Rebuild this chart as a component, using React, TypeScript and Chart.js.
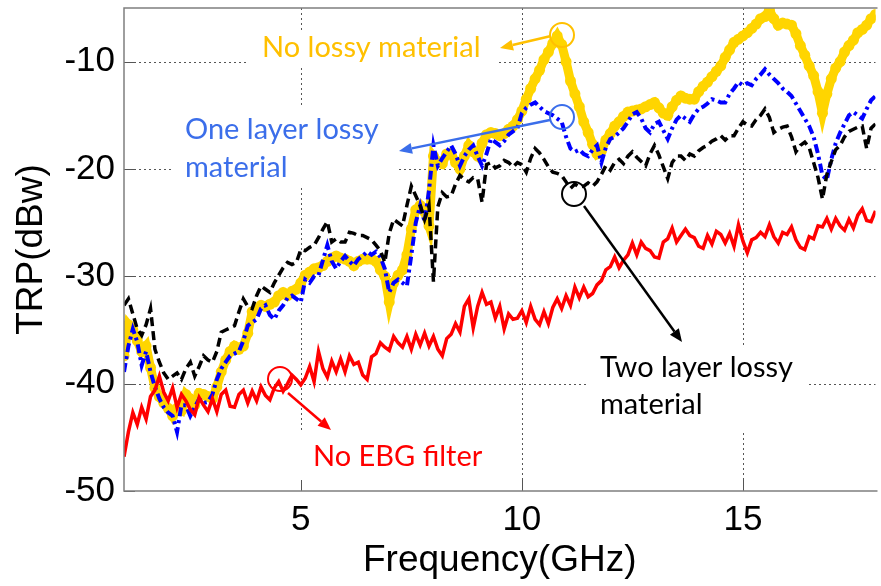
import React, { useEffect, useRef } from 'react';
import { Chart, registerables } from 'chart.js';

Chart.register(...registerables);

// Frequency samples (GHz)
const FREQ = [
  1.0, 1.1, 1.2, 1.3, 1.4, 1.5, 1.6, 1.7, 1.8, 1.9,
  2.0, 2.1, 2.2, 2.3, 2.4, 2.5, 2.6, 2.7, 2.8, 2.9,
  3.0, 3.1, 3.2, 3.3, 3.4, 3.5, 3.6, 3.7, 3.8, 3.9,
  4.0, 4.1, 4.2, 4.3, 4.4, 4.5, 4.6, 4.7, 4.8, 4.9,
  5.0, 5.1, 5.2, 5.3, 5.4, 5.5, 5.6, 5.7, 5.8, 5.9,
  6.0, 6.1, 6.2, 6.3, 6.4, 6.5, 6.6, 6.7, 6.8, 6.9,
  7.0, 7.1, 7.2, 7.3, 7.4, 7.5, 7.6, 7.7, 7.8, 7.9,
  8.0, 8.1, 8.2, 8.3, 8.4, 8.5, 8.6, 8.7, 8.8, 8.9,
  9.0, 9.1, 9.2, 9.3, 9.4, 9.5, 9.6, 9.7, 9.8, 9.9,
  10.0, 10.1, 10.2, 10.3, 10.4, 10.5, 10.6, 10.7, 10.8, 10.9,
  11.0, 11.1, 11.2, 11.3, 11.4, 11.5, 11.6, 11.7, 11.8, 11.9,
  12.0, 12.1, 12.2, 12.3, 12.4, 12.5, 12.6, 12.7, 12.8, 12.9,
  13.0, 13.1, 13.2, 13.3, 13.4, 13.5, 13.6, 13.7, 13.8, 13.9,
  14.0, 14.1, 14.2, 14.3, 14.4, 14.5, 14.6, 14.7, 14.8, 14.9,
  15.0, 15.1, 15.2, 15.3, 15.4, 15.5, 15.6, 15.7, 15.8, 15.9,
  16.0, 16.1, 16.2, 16.3, 16.4, 16.5, 16.6, 16.7, 16.8, 16.9,
  17.0, 17.1, 17.2, 17.3, 17.4, 17.5, 17.6, 17.7, 17.8, 17.9,
  18.0,
];

// TRP (dBw) — No EBG filter (red)
const NO_EBG = [
  -46.8, -44.5, -42.7, -43.8, -42.2, -43.3, -41.2, -40.6, -39.3, -40.8,
  -41.6, -40.4, -42.2, -41.0, -41.6, -42.4, -42.9, -41.3, -42.0, -42.6,
  -41.4, -42.6, -41.0, -40.6, -42.1, -42.2, -41.0, -40.6, -41.8, -40.7,
  -41.6, -40.3, -41.1, -41.5, -40.4, -39.8, -40.7, -40.0, -39.2, -39.6,
  -40.1, -39.5, -38.4, -39.8, -37.0, -38.6, -39.4, -37.9, -38.9, -37.7,
  -38.9, -37.4, -38.2, -38.0, -39.2, -39.6, -37.5, -37.2, -36.2, -36.6,
  -36.9, -35.6, -36.2, -36.6, -35.6, -36.8, -35.4, -36.4, -35.3, -36.5,
  -35.6, -36.8, -37.4, -35.8, -35.4, -34.4, -35.2, -32.8, -32.1, -34.8,
  -32.8, -31.5, -32.6, -32.4, -33.9, -32.8, -34.9, -33.5, -34.0, -33.9,
  -33.2, -34.3, -32.8, -34.0, -34.5, -33.3, -34.4, -32.9, -32.1, -33.0,
  -31.8, -32.7, -31.0, -32.0, -31.0, -31.9, -31.6, -30.8, -30.4, -29.4,
  -29.1, -28.2, -29.2, -28.5, -28.0, -26.9, -28.0, -26.8, -27.4, -27.6,
  -28.2, -28.3, -26.8, -26.5, -25.5, -26.8, -26.2, -25.6, -26.2, -26.4,
  -27.2, -27.4, -26.2, -27.0, -25.8, -26.1, -26.9, -26.0, -27.2, -25.2,
  -26.7, -27.8, -26.6, -26.4, -25.9, -26.3, -25.2, -26.3, -26.9, -25.9,
  -26.1, -25.4, -26.6, -27.3, -27.5, -26.3, -26.5, -25.3, -25.4, -24.6,
  -25.6, -24.6, -25.3, -25.7, -24.7, -25.5, -24.3, -23.7, -24.8, -24.9,
  -23.9,
];

// TRP (dBw) — No lossy material (yellow)
const NO_LOSSY = [
  -37.4, -34.5, -35.0, -36.0, -37.0, -36.5, -38.5, -40.4, -41.2, -41.8,
  -42.3, -43.0, -42.3, -42.5, -41.0, -41.4, -42.0, -40.9, -41.0, -41.2,
  -41.4, -40.3, -38.9, -37.8, -37.0, -36.5, -36.8, -36.5, -35.3, -33.3,
  -33.0, -32.7, -32.8, -32.6, -32.4, -31.8, -31.5, -31.8, -31.4, -31.2,
  -30.6, -29.9, -29.6, -29.3, -29.2, -29.0, -28.6, -28.3, -28.1, -28.3,
  -28.4, -28.6, -29.0, -28.6, -28.4, -28.4, -28.4, -28.6, -29.4, -30.0,
  -32.4, -30.6, -29.9, -29.4, -28.0, -25.6, -23.8, -23.4, -24.0, -25.3,
  -18.8, -19.3, -19.5, -18.6, -18.5, -19.4, -20.0, -18.8, -17.8, -18.4,
  -18.8, -17.6, -16.8, -16.6, -16.7, -16.9, -16.7, -16.3, -16.0, -15.4,
  -14.6, -13.5, -12.5, -11.6, -10.8, -9.8, -9.1, -8.3, -7.6, -8.4,
  -10.0, -11.8, -13.0, -14.2, -15.6, -16.6, -17.7, -18.6, -18.3, -17.3,
  -16.7, -16.0, -15.6, -15.1, -14.7, -14.6, -14.5, -14.4, -14.2, -14.0,
  -13.8, -14.3, -14.8, -15.0, -14.2, -13.6, -13.2, -13.4, -13.5, -13.5,
  -12.8, -12.3, -11.9, -11.4, -10.9, -10.4, -9.6, -8.9, -8.2, -7.9,
  -7.6, -7.3, -6.9, -6.5, -6.0, -5.8, -5.2, -6.0, -6.6, -6.4,
  -6.5, -6.6, -7.4, -8.5, -9.4, -10.4, -11.3, -12.8, -14.8, -13.0,
  -11.6, -10.6, -10.0, -9.1, -8.5, -8.0, -7.3, -7.0, -6.6, -6.0,
  -5.6,
];

// TRP (dBw) — One layer lossy material (blue)
const ONE_LAYER = [
  -38.9, -36.5, -34.9, -36.1, -38.3, -37.0, -38.9, -40.3, -41.4, -42.2,
  -42.7, -43.0, -44.5, -42.0, -42.0, -43.0, -42.2, -41.4, -41.8, -41.7,
  -41.0, -39.6, -38.6, -38.0, -37.4, -37.2, -37.0, -36.0, -34.6, -34.3,
  -34.0, -33.0, -32.7, -33.6, -34.0, -33.2, -32.7, -32.0, -31.8, -32.1,
  -32.4, -30.3, -30.6, -30.0, -29.9, -28.5, -27.1, -28.6, -29.3, -28.6,
  -28.1, -28.6, -29.0, -28.4, -28.1, -27.7, -28.0, -27.7, -28.2, -29.3,
  -31.5, -30.6, -30.3, -30.6, -30.9, -28.0, -25.0, -23.4, -24.9, -22.0,
  -17.8, -19.7, -19.0, -18.4, -17.8, -18.6, -19.7, -18.8, -18.2, -17.8,
  -18.8, -19.7, -18.6, -17.2, -17.5, -17.8, -17.4, -16.8, -16.5, -16.2,
  -14.8, -14.3, -14.0, -13.8, -14.2, -14.6, -14.8, -15.0, -15.3, -15.6,
  -17.0, -18.1, -18.4, -18.2, -18.6, -18.8, -18.2, -17.8, -19.4, -18.0,
  -17.2, -17.0, -16.6, -16.2, -15.6, -14.9, -14.7, -15.3, -16.2, -16.6,
  -15.8, -15.6, -16.4, -17.2, -16.2, -15.4, -15.0, -15.3, -15.6, -14.9,
  -14.4, -14.2, -13.9, -13.5, -13.6, -13.8, -13.8, -13.0, -12.5, -11.9,
  -12.2, -12.0, -12.2, -11.6, -11.2, -10.7, -11.2, -11.6, -12.0, -12.5,
  -12.8, -13.2, -13.9, -14.6, -15.3, -16.0, -17.0, -18.6, -20.6, -21.0,
  -19.1, -17.6, -16.6, -15.8, -15.0, -14.7, -15.0, -15.3, -14.4, -13.6,
  -13.2,
];

// TRP (dBw) — Two layer lossy material (black)
const TWO_LAYER = [
  -32.7, -32.1, -33.5, -34.9, -35.5, -34.5, -33.0, -36.8, -38.0, -39.0,
  -39.6, -39.3, -39.0, -39.6, -38.6, -38.0, -39.3, -38.4, -37.4, -37.8,
  -38.0, -37.0, -35.2, -35.0, -34.8, -34.6, -33.3, -32.1, -32.8, -33.0,
  -31.8, -30.9, -31.2, -31.5, -30.6, -29.9, -29.2, -28.7, -28.9, -28.7,
  -27.5, -27.6, -27.3, -27.1, -26.4, -25.6, -24.9, -26.8, -26.5, -26.8,
  -26.8, -25.9, -26.0, -26.2, -26.2, -26.4, -26.6, -27.1, -27.6, -28.7,
  -26.0, -24.7, -25.0, -25.3, -23.4, -21.6, -22.5, -23.4, -24.7, -23.4,
  -30.5, -23.5, -22.2, -22.6, -22.5, -21.4, -20.6, -21.0, -21.2, -20.8,
  -20.9, -23.1, -19.6, -19.4, -19.9, -19.7, -19.2, -19.4, -19.8, -19.4,
  -19.6, -20.3, -19.0, -18.1, -18.5, -19.1, -19.8, -20.3, -20.4, -20.6,
  -21.2, -21.8, -21.4, -21.7, -21.6, -21.3, -21.6, -21.2, -20.5, -19.7,
  -20.1, -19.4, -19.1, -19.5, -18.8, -18.4, -18.9, -19.3, -19.7, -18.6,
  -17.8, -18.7, -19.8, -20.9, -19.4, -18.8, -18.8, -19.2, -18.6, -18.8,
  -18.3, -18.0, -17.8, -17.4, -17.2, -16.9, -17.3, -16.9, -16.9, -16.2,
  -15.6, -15.9, -16.0, -15.4, -15.0, -14.4, -15.2, -16.6, -16.3, -16.1,
  -16.0, -17.0, -18.4, -17.8, -17.5, -18.0, -19.4, -20.8, -22.8, -20.5,
  -19.3, -18.2, -17.8, -17.0, -16.5, -16.3, -16.1, -16.0, -18.1, -16.2,
  -15.8,
];

const X_TICKS = [5, 10, 15];
const Y_TICKS = [-50, -40, -30, -20, -10];
const X_MIN = 1;
const X_MAX = 18;
const Y_MIN = -50;
const Y_MAX = -5;

const ORANGE = '#FFC000';
const BLUE_NOTE = '#3B6EEA';
const NOTE_FONT = '29px Lato, "Open Sans", sans-serif';

type Note = { lines: string[]; color: string; x: number; y: number; lh: number; box: [number, number, number, number] };
const NOTES: Note[] = [
  { lines: ['No lossy material'], color: ORANGE, x: 262, y: 48, lh: 0, box: [248, 30, 498, 67] },
  { lines: ['One layer lossy', 'material'], color: BLUE_NOTE, x: 185, y: 130, lh: 38, box: [172, 108, 397, 188] },
  { lines: ['Two layer lossy', 'material'], color: '#000000', x: 600, y: 368, lh: 37, box: [588, 345, 808, 433] },
  { lines: ['No EBG filter'], color: '#FF0000', x: 313, y: 457, lh: 0, box: [290, 430, 500, 486] },
];
const CIRCLES = [
  { x: 562, y: 35, r: 12, color: ORANGE },
  { x: 562, y: 117, r: 12, color: BLUE_NOTE },
  { x: 574, y: 194, r: 12, color: '#000000' },
  { x: 280, y: 379, r: 12, color: '#FF0000' },
];
const ARROWS = [
  { x1: 551, y1: 36, x2: 500, y2: 48, color: ORANGE },
  { x1: 550, y1: 120, x2: 399, y2: 151, color: BLUE_NOTE },
  { x1: 584, y1: 206, x2: 682, y2: 342, color: '#000000' },
  { x1: 288, y1: 393, x2: 331, y2: 430, color: '#FF0000' },
];

const overlayPlugin = {
  id: 'overlay',
  beforeDatasetsDraw(chart: any) {
    const { ctx, chartArea: a, scales } = chart;
    const xs = scales.x;
    const ys = scales.y;
    ctx.save();
    // dotted grid
    ctx.strokeStyle = '#555555';
    ctx.lineWidth = 1;
    ctx.setLineDash([2, 3]);
    X_TICKS.forEach((v) => {
      const px = Math.round(xs.getPixelForValue(v)) + 0.5;
      ctx.beginPath();
      ctx.moveTo(px, a.top);
      ctx.lineTo(px, a.bottom);
      ctx.stroke();
    });
    Y_TICKS.filter((v) => v > Y_MIN).forEach((v) => {
      const py = Math.round(ys.getPixelForValue(v)) + 0.5;
      ctx.beginPath();
      ctx.moveTo(a.left, py);
      ctx.lineTo(a.right, py);
      ctx.stroke();
    });
    ctx.setLineDash([]);
    // annotation text boxes
    NOTES.forEach((n) => {
      const [x0, y0, x1, y1] = n.box;
      ctx.fillStyle = '#ffffff';
      ctx.fillRect(x0, y0, x1 - x0, y1 - y0);
      ctx.fillStyle = n.color;
      ctx.font = NOTE_FONT;
      ctx.textAlign = 'left';
      ctx.textBaseline = 'middle';
      n.lines.forEach((t, i) => ctx.fillText(t, n.x, n.y + i * n.lh));
    });
    ctx.restore();
  },
  afterDatasetsDraw(chart: any) {
    const { ctx, chartArea: a, scales } = chart;
    const xs = scales.x;
    const ys = scales.y;
    ctx.save();
    // inner tick marks
    ctx.strokeStyle = '#555555';
    ctx.lineWidth = 1;
    X_TICKS.forEach((v) => {
      const px = Math.round(xs.getPixelForValue(v)) + 0.5;
      ctx.beginPath();
      ctx.moveTo(px, a.bottom);
      ctx.lineTo(px, a.bottom - 11);
      ctx.stroke();
    });
    Y_TICKS.forEach((v) => {
      const py = Math.round(ys.getPixelForValue(v)) + 0.5;
      ctx.beginPath();
      ctx.moveTo(a.left, py);
      ctx.lineTo(a.left + 11, py);
      ctx.stroke();
    });
    // axes box (left, top, bottom)
    ctx.strokeStyle = '#7f7f7f';
    ctx.lineWidth = 1.5;
    ctx.beginPath();
    ctx.moveTo(a.right + 2, a.top);
    ctx.lineTo(a.left, a.top);
    ctx.lineTo(a.left, a.bottom);
    ctx.lineTo(a.right + 2, a.bottom);
    ctx.stroke();
    // circles
    CIRCLES.forEach((c) => {
      ctx.strokeStyle = c.color;
      ctx.lineWidth = 2;
      ctx.beginPath();
      ctx.arc(c.x, c.y, c.r, 0, Math.PI * 2);
      ctx.stroke();
    });
    // arrows
    ARROWS.forEach((ar) => {
      const ang = Math.atan2(ar.y2 - ar.y1, ar.x2 - ar.x1);
      const hl = 13;
      const hw = 5.5;
      const bx = ar.x2 - hl * Math.cos(ang);
      const by = ar.y2 - hl * Math.sin(ang);
      ctx.strokeStyle = ar.color;
      ctx.fillStyle = ar.color;
      ctx.lineWidth = 2.5;
      ctx.beginPath();
      ctx.moveTo(ar.x1, ar.y1);
      ctx.lineTo(bx, by);
      ctx.stroke();
      ctx.beginPath();
      ctx.moveTo(ar.x2, ar.y2);
      ctx.lineTo(bx + hw * Math.sin(ang), by - hw * Math.cos(ang));
      ctx.lineTo(bx - hw * Math.sin(ang), by + hw * Math.cos(ang));
      ctx.closePath();
      ctx.fill();
    });
    ctx.restore();
  },
};

const pts = (vals: number[]) => FREQ.map((f, i) => ({ x: f, y: vals[i] }));

export default function App() {
  const ref = useRef<HTMLCanvasElement>(null);
  useEffect(() => {
    if (!ref.current) return;
    const chart = new Chart(ref.current, {
      type: 'line',
      data: {
        datasets: [
          { label: 'No EBG filter', data: pts(NO_EBG), borderColor: '#FF0000', borderWidth: 3.5, pointRadius: 0, tension: 0 },
          { label: 'Two layer lossy material', data: pts(TWO_LAYER), borderColor: '#000000', borderWidth: 3.5, borderDash: [9, 5], pointRadius: 0, tension: 0 },
          { label: 'One layer lossy material', data: pts(ONE_LAYER), borderColor: '#0000FF', borderWidth: 4, borderDash: [9, 4, 3, 4], pointRadius: 0, tension: 0 },
          { label: 'No lossy material', data: pts(NO_LOSSY), borderColor: '#FFD500', backgroundColor: '#FFD500', borderWidth: 9, pointRadius: 5.5, pointBorderWidth: 0, pointBackgroundColor: '#FFD500', tension: 0 },
        ],
      } as any,
      options: {
        responsive: false,
        animation: false,
        devicePixelRatio: 1,
        layout: { padding: { top: 8, left: 0, right: 0, bottom: 0 } },
        plugins: { legend: { display: false }, tooltip: { enabled: false } },
        scales: {
          x: {
            type: 'linear',
            min: X_MIN,
            max: X_MAX,
            afterBuildTicks: (s: any) => { s.ticks = X_TICKS.map((v) => ({ value: v })); },
            afterFit: (s: any) => { s.height = 95; s.paddingLeft = 0; s.paddingRight = 0; },
            grid: { display: false, drawTicks: false },
            border: { display: false },
            ticks: { color: '#000', padding: 8, maxRotation: 0, autoSkip: false, font: { family: '"Liberation Sans", Arial, sans-serif', size: 35 } },
            title: { display: true, text: 'Frequency(GHz)', color: '#000', padding: { top: 0, bottom: 3 }, font: { family: '"Liberation Sans", Arial, sans-serif', size: 37 } },
          },
          y: {
            type: 'linear',
            min: Y_MIN,
            max: Y_MAX,
            afterBuildTicks: (s: any) => { s.ticks = Y_TICKS.map((v) => ({ value: v })); },
            afterFit: (s: any) => { s.width = 124; s.paddingTop = 0; s.paddingBottom = 0; },
            grid: { display: false, drawTicks: false },
            border: { display: false },
            ticks: { color: '#000', padding: 9, autoSkip: false, font: { family: '"Liberation Sans", Arial, sans-serif', size: 35 } },
            title: { display: true, text: 'TRP(dBw)', color: '#000', padding: { top: 10, bottom: 0 }, font: { family: '"Liberation Sans", Arial, sans-serif', size: 37 } },
          },
        },
      } as any,
      plugins: [overlayPlugin],
    });
    return () => chart.destroy();
  }, []);
  return (
    <div style={{ position: 'absolute', left: 0, top: 0, width: 881, height: 586, background: '#ffffff' }}>
      <canvas ref={ref} width={881} height={586} style={{ display: 'block' }} />
    </div>
  );
}
